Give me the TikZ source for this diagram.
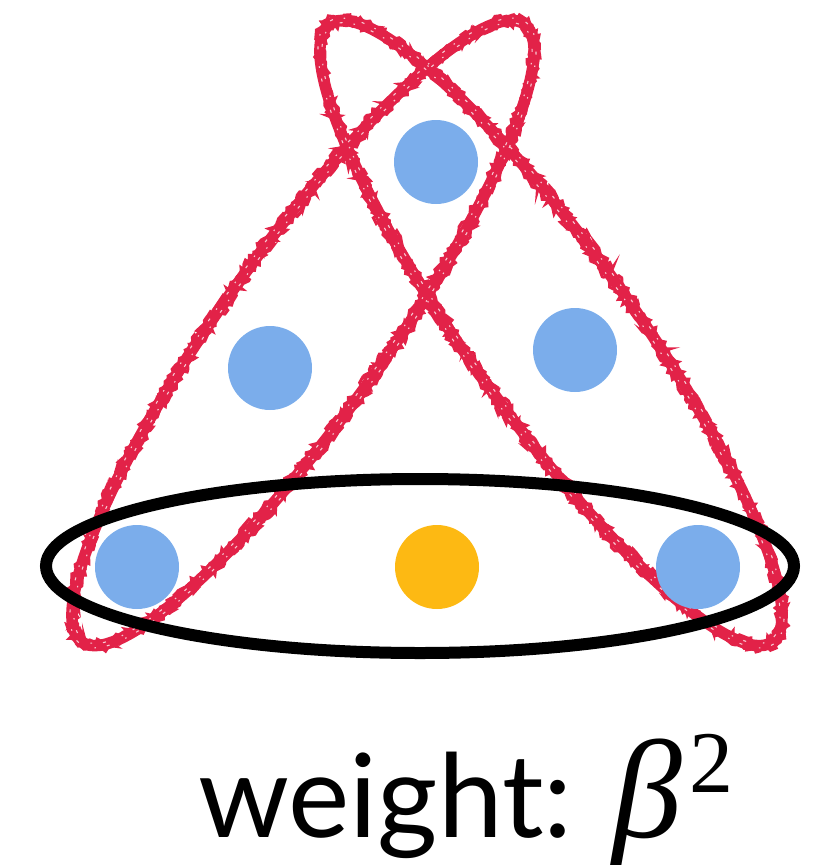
\documentclass[tikz,border=0pt]{standalone}
\usepackage{fontspec}
\newfontfamily\labelfont{Lato}
\newfontfamily\mathlike{Liberation Serif}
\usetikzlibrary{decorations.pathmorphing}
\definecolor{dotblue}{RGB}{123,173,235}
\definecolor{dotorange}{RGB}{253,185,19}
\definecolor{loopred}{RGB}{226,34,72}
\begin{document}
\begin{tikzpicture}[x=1pt,y=-1pt,
  dot/.style={circle,fill=#1,draw=none,minimum size=84pt,inner sep=0pt},
  loopcore/.style={draw=loopred,line width=11.5pt},
  loopfuzz/.style={draw=loopred,line width=3pt,
     decorate,decoration={random steps,segment length=3pt,amplitude=2.8pt}},
  speck/.style={draw=white,line width=1.1pt,dash pattern=on 3pt off 11pt on 1.5pt off 17pt,opacity=0.75},
  blackloop/.style={draw=black,line width=12pt}]
\useasboundingbox (0,0) rectangle (815,865);
\pgfmathsetseed{7}
% red loops
\foreach \o in {0,5,-5}{
  \draw[loopfuzz, rotate around={54.4:(303,333)}] (303,333) ellipse [x radius={380+\o}, y radius={82+\o}];
  \draw[loopfuzz, rotate around={-54.4:(551,333)}] (551,333) ellipse [x radius={380+\o}, y radius={82+\o}];
}
\draw[loopcore, rotate around={54.4:(303,333)}] (303,333) ellipse [x radius=380, y radius=82];
\draw[loopcore, rotate around={-54.4:(551,333)}] (551,333) ellipse [x radius=380, y radius=82];
\foreach \o/\ph in {2.5/0,-2.5/7}{
  \draw[speck, dash phase=\ph, rotate around={54.4:(303,333)}] (303,333) ellipse [x radius={380+\o}, y radius={82+\o}];
  \draw[speck, dash phase=\ph, rotate around={-54.4:(551,333)}] (551,333) ellipse [x radius={380+\o}, y radius={82+\o}];
}
% dots
\node[dot=dotblue] (top) at (436,162) {};
\node[dot=dotblue] (midl) at (270,368) {};
\node[dot=dotblue] (midr) at (575,350) {};
\node[dot=dotblue] (botl) at (137,567) {};
\node[dot=dotorange] (botc) at (437,567) {};
\node[dot=dotblue] (botr) at (698,567) {};
% black ellipse
\draw[blackloop] (420,566) ellipse [x radius=374, y radius=87];
% label
\node[anchor=base west,inner sep=0pt] (label) at (198,837)
  {\fontsize{116}{140}\selectfont\labelfont weight: {\fontsize{140}{150}\selectfont\mathlike\itshape β}\kern8pt\raisebox{45pt}{\fontsize{88}{90}\selectfont\mathlike 2}};
\end{tikzpicture}
\end{document}
